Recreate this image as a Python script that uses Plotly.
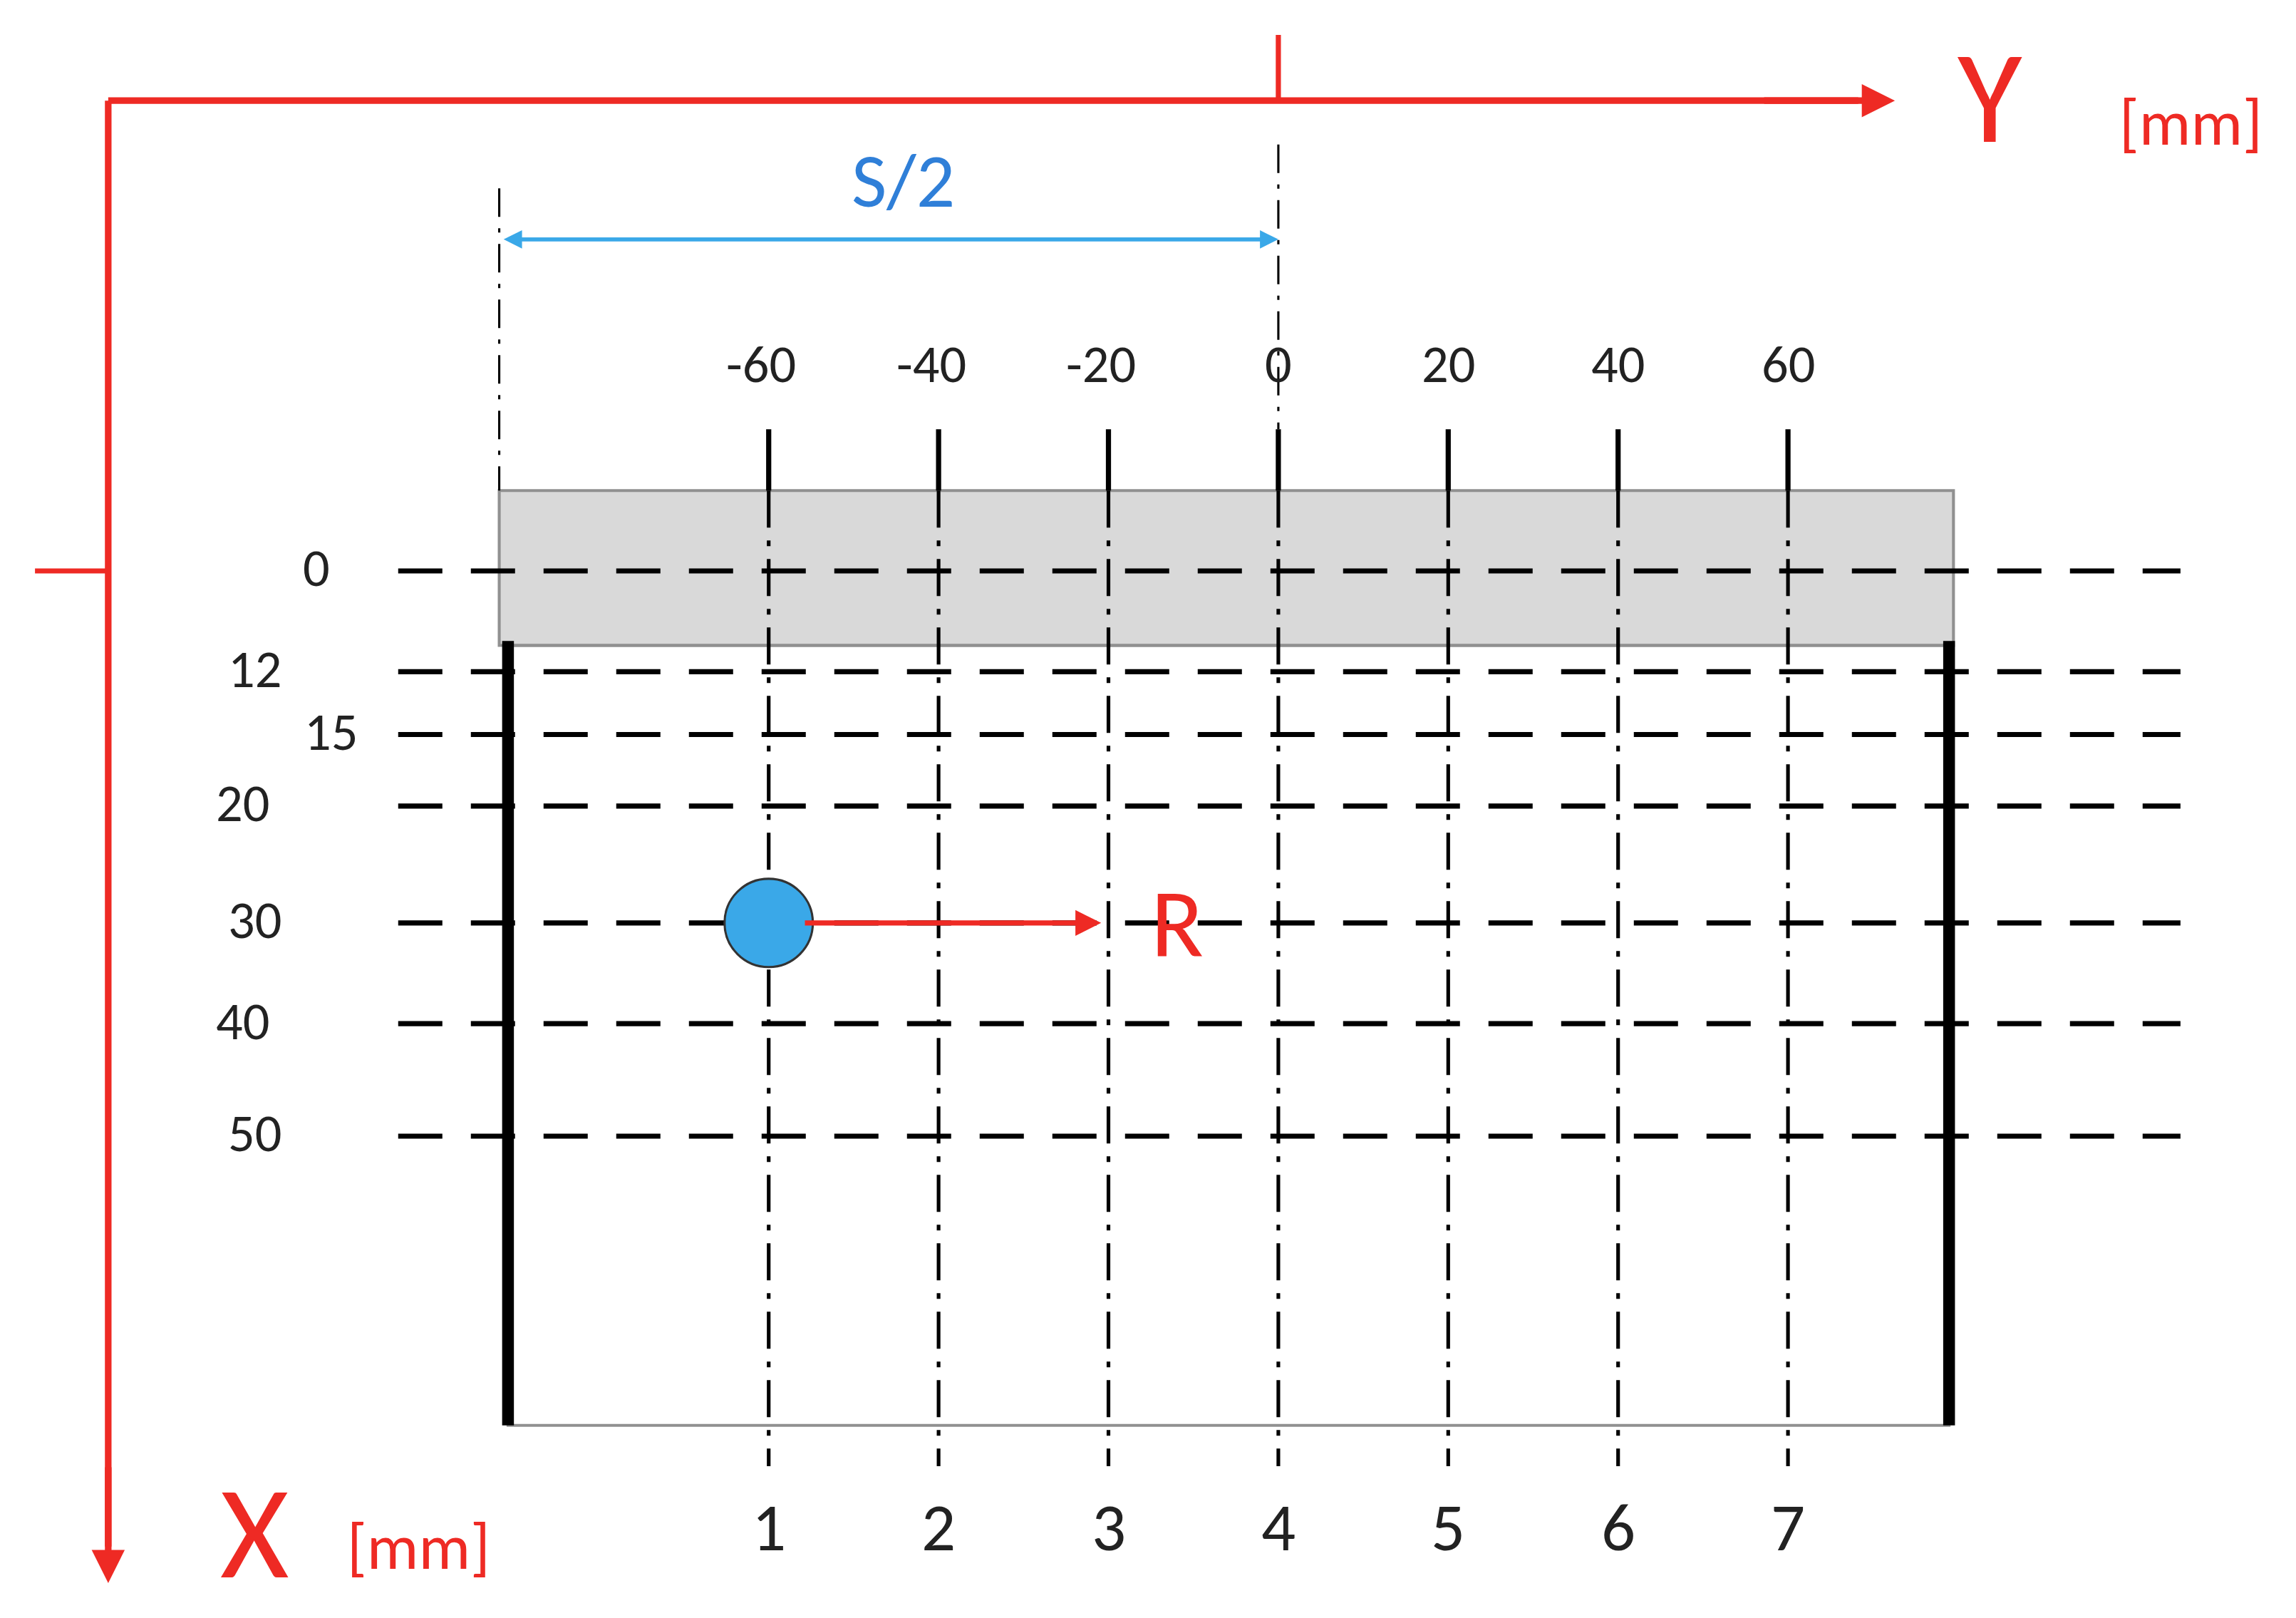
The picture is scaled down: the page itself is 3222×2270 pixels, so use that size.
import plotly.graph_objects as go

# horizontal positions (Y, mm) of the measuring columns and their numbers
y_mm = [-60, -40, -20, 0, 20, 40, 60]
col_numbers = ["1", "2", "3", "4", "5", "6", "7"]
# depths (X, mm) of the measuring rows
depths = [0, 12, 15, 20, 30, 40, 50]

# drawing scale (canvas units, canvas is 1560 x 1100, page is ~2.07x)
K = 2.065
px_per_mm = 5.8
y0_px = 869
row_px = [387, 456, 499, 548, 628, 697, 774]
row_label_x = [212, 170, 222, 162, 170, 162, 170]

col_px = [y0_px + v * px_per_mm for v in y_mm]

fig = go.Figure()
RED = "#ee2a24"
BLUE = "#3aa8e8"

def line(xs, ys, color="black", width=3, dash=None):
    fig.add_trace(go.Scatter(x=xs, y=ys, mode="lines", hoverinfo="skip",
                             line=dict(color=color, width=width * K, dash=dash)))

# specimen: grey top layer and body
fig.add_shape(type="rect", x0=337, x1=1330, y0=332, y1=438,
              fillcolor="#d9d9d9", line=dict(color="#909090", width=2 * K), layer="below")
fig.add_shape(type="rect", x0=343, x1=1327, y0=438, y1=972,
              line=dict(color="#909090", width=2 * K), layer="below")

# horizontal dashed rows
for r in row_px:
    line([268, 1485], [r, r], width=3.5, dash="62px,40px")

# vertical dash-dot columns + short solid ticks
for c in col_px:
    line([c, c], [332, 1000], width=2.5, dash="52px,18px,8px,18px")
    line([c, c], [290, 332], width=3.5)
line([337, 337], [125, 332], width=1.5, dash="40px,16px,6px,16px")
line([869, 869], [95, 290], width=1.5, dash="40px,16px,6px,16px")

# thick side walls
line([343, 343], [435, 972], width=8)
line([1327, 1327], [435, 972], width=8)

# red reference axes
line([70, 1265], [65, 65], color=RED, width=4.5)
line([70, 70], [65, 1055], color=RED, width=4.5)
line([869, 869], [20, 65], color=RED, width=3.5)
line([20, 70], [387, 387], color=RED, width=3.5)

ann = []
def arrow(x, y, ax, ay, color, width=3, size=1.0):
    ann.append(dict(x=x, y=y, ax=ax, ay=ay, xref="x", yref="y", axref="x", ayref="y",
                    showarrow=True, arrowhead=2, arrowsize=size, arrowwidth=width * K,
                    arrowcolor=color, text=""))
arrow(1290, 65, 1200, 65, RED, 4.5)
arrow(70, 1080, 70, 1000, RED, 4.5)
arrow(869, 160, 345, 160, BLUE, 2.5)
arrow(340, 160, 864, 160, BLUE, 2.5)
arrow(748, 628, 545, 628, RED, 3.5)

def text(x, y, s, size, color="#222222", family="Calibri, Liberation Sans, Arial"):
    ann.append(dict(x=x, y=y, xref="x", yref="y", text=s, showarrow=False,
                    font=dict(size=size * K, color=color, family=family)))

for c, v in zip(col_px, y_mm):
    text(c - (5 if v < 0 else 0), 245, str(v), 36)
for c, n in zip(col_px, col_numbers):
    text(c, 1042, n, 46)
for r, lx, d in zip(row_px, row_label_x, depths):
    text(lx, r - 2, str(d), 36)
text(1355, 62, "Y", 90, RED)
text(1492, 80, "[mm]", 44, RED)
text(170, 1045, "X", 90, RED)
text(282, 1055, "[mm]", 44, RED)
text(613, 120, "S/2", 52, "#2f7fd8")
text(800, 628, "R", 66, RED)

# probe
fig.add_trace(go.Scatter(x=[col_px[0]], y=[628], mode="markers", hoverinfo="skip",
                         marker=dict(size=60 * K, color=BLUE, line=dict(color="#333333", width=1.5 * K))))

fig.update_layout(
    annotations=ann, showlegend=False, autosize=True,
    margin=dict(l=0, r=0, t=0, b=0),
    paper_bgcolor="white", plot_bgcolor="white",
    xaxis=dict(range=[0, 1560], visible=False, fixedrange=True),
    yaxis=dict(range=[1100, 0], visible=False, fixedrange=True),
)
fig.write_html("out.html", config={"displayModeBar": False})
